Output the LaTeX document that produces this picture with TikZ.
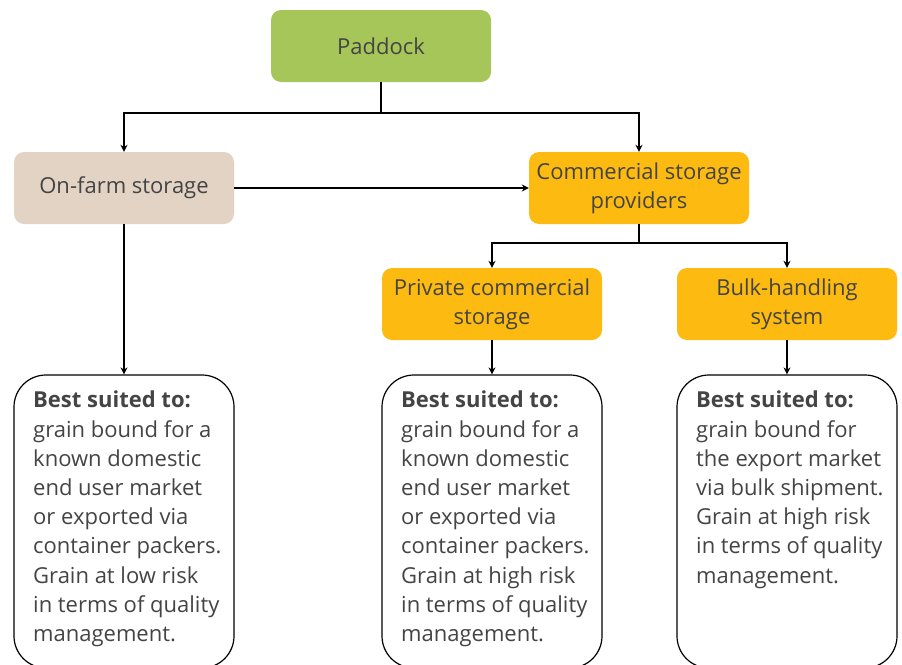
\documentclass[tikz,border=0pt]{standalone}
\usepackage{fontspec}
\setmainfont{Open Sans}
\usetikzlibrary{arrows.meta}
\definecolor{pgreen}{HTML}{A6C65A}
\definecolor{pbeige}{HTML}{E3D3C4}
\definecolor{porange}{HTML}{FDBB12}
\definecolor{ptext}{HTML}{444444}
\tikzset{
  colbox/.style={rounded corners=10pt, minimum width=220pt, minimum height=72pt, inner sep=0pt, align=center, text=ptext, font=\fontsize{22}{29}\selectfont},
  infobox/.style={draw=black, line width=1.2pt, rounded corners=32pt, minimum width=220pt, minimum height=293pt, inner sep=0pt},
  infotext/.style={anchor=north west, inner sep=0pt, align=left, text=ptext, font=\fontsize{22}{29.2}\selectfont},
  conn/.style={draw=black, line width=1.3pt},
  arr/.style={conn, -{Stealth[length=7pt,width=7pt]}}
}
\begin{document}
\begin{tikzpicture}[x=1pt,y=-1pt]
\useasboundingbox (0,0) rectangle (902,664);
\node[colbox, fill=pgreen] (paddock) at (381,46) {Paddock};
\node[colbox, fill=pbeige] (onfarm) at (124,188) {On-farm storage};
\node[colbox, fill=porange] (comm) at (639,188) {Commercial storage\\providers};
\node[colbox, fill=porange] (priv) at (492,304) {Private commercial\\storage};
\node[colbox, fill=porange] (bulk) at (787,304) {Bulk-handling\\system};
\node[infobox] (box1) at (124,521.5) {};
\node[infobox] (box2) at (492,521.5) {};
\node[infobox] (box3) at (787,521.5) {};
\node[infotext] (t1) at (33,391) {\textbf{Best suited to:}\\grain bound for a\\known domestic\\end user market\\or exported via\\container packers.\\Grain at low risk\\in terms of quality\\management.};
\node[infotext] (t2) at (401,391) {\textbf{Best suited to:}\\grain bound for a\\known domestic\\end user market\\or exported via\\container packers.\\Grain at high risk\\in terms of quality\\management.};
\node[infotext] (t3) at (696,391) {\textbf{Best suited to:}\\grain bound for\\the export market\\via bulk shipment.\\Grain at high risk\\in terms of quality\\management.};
\coordinate (j1) at (381,113);
\coordinate (j2) at (639,243);
\draw[conn] (paddock.south) -- (j1);
\draw[arr] (j1) -| (onfarm.north);
\draw[arr] (j1) -| (comm.north);
\draw[arr] (onfarm.east) -- (comm.west);
\draw[arr] (onfarm.south) -- (box1.north);
\draw[conn] (comm.south) -- (j2);
\draw[arr] (j2) -| (priv.north);
\draw[arr] (j2) -| (bulk.north);
\draw[arr] (priv.south) -- (box2.north);
\draw[arr] (bulk.south) -- (box3.north);
\end{tikzpicture}
\end{document}
